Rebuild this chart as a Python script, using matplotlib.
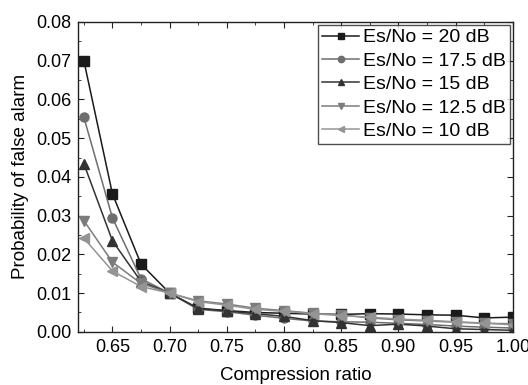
import numpy as np
import matplotlib.pyplot as plt
from matplotlib.ticker import MultipleLocator

plt.rcParams['font.family'] = ['Liberation Sans', 'DejaVu Sans']

# compression ratio
ratio = [0.625, 0.65, 0.675, 0.70, 0.725, 0.75, 0.775, 0.80,
         0.825, 0.85, 0.875, 0.90, 0.925, 0.95, 0.975, 1.00]

# probability of false alarm for each Es/No
pfa_20 = [0.0700, 0.0356, 0.0175, 0.0100, 0.0061, 0.0055, 0.0050, 0.0048,
          0.0046, 0.0045, 0.0047, 0.0046, 0.0044, 0.0043, 0.0036, 0.0038]
pfa_17_5 = [0.0554, 0.0294, 0.0137, 0.0100, 0.0058, 0.0052, 0.0043, 0.0035,
            0.0028, 0.0026, 0.0025, 0.0022, 0.0019, 0.0015, 0.0012, 0.0010]
pfa_15 = [0.0434, 0.0235, 0.0130, 0.0100, 0.0060, 0.0054, 0.0047, 0.0040,
          0.0029, 0.0024, 0.0016, 0.0020, 0.0015, 0.0008, 0.0006, 0.0004]
pfa_12_5 = [0.0287, 0.0180, 0.0125, 0.0100, 0.0080, 0.0072, 0.0061, 0.0055,
            0.0048, 0.0044, 0.0036, 0.0031, 0.0028, 0.0025, 0.0022, 0.0021]
pfa_10 = [0.0242, 0.0157, 0.0117, 0.0100, 0.0078, 0.0069, 0.0058, 0.0053,
          0.0047, 0.0042, 0.0038, 0.0033, 0.0030, 0.0026, 0.0023, 0.0018]

labels = ['Es/No = 20 dB', 'Es/No = 17.5 dB', 'Es/No = 15 dB',
          'Es/No = 12.5 dB', 'Es/No = 10 dB']

series = [pfa_20, pfa_17_5, pfa_15, pfa_12_5, pfa_10]
markers = ['s', 'o', '^', 'v', '<']
colors = ['#1a1a1a', '#6e6e6e', '#333333', '#7c7c7c', '#949494']

fig = plt.figure(figsize=(5.28, 3.85), dpi=100)
ax = fig.add_axes([0.148, 0.138, 0.823, 0.805])

for y, m, c, lab in zip(series, markers, colors, labels):
    ax.plot(ratio, y, marker=m, color=c, markersize=6.5, linewidth=1.1,
            label=lab)

ax.set_xlim(0.62, 1.0)
ax.set_ylim(0.0, 0.08)
ax.xaxis.set_major_locator(MultipleLocator(0.05))
ax.xaxis.set_minor_locator(MultipleLocator(0.025))
ax.yaxis.set_major_locator(MultipleLocator(0.01))
ax.yaxis.set_minor_locator(MultipleLocator(0.005))
ax.xaxis.set_major_formatter(plt.FormatStrFormatter('%.2f'))
ax.yaxis.set_major_formatter(plt.FormatStrFormatter('%.2f'))

ax.tick_params(which='both', direction='in', top=True, right=True,
               labelsize=13, color='#222222')
ax.tick_params(which='major', length=4)
ax.tick_params(which='minor', length=2.5)
ax.tick_params(axis='x', pad=5)
ax.tick_params(axis='y', pad=5)
for s in ax.spines.values():
    s.set_linewidth(1.0)
    s.set_color('#222222')

ax.set_xlabel('Compression ratio', fontsize=13.5, labelpad=8)
ax.set_ylabel('Probability of false alarm', fontsize=13.5, labelpad=5)

leg = ax.legend(loc='upper right', fontsize=14, frameon=True, fancybox=False,
                edgecolor='#222222', handlelength=1.9, handletextpad=0.2,
                labelspacing=0.3, borderpad=0.2, borderaxespad=0.15,
                markerscale=0.7)
leg.get_frame().set_linewidth(1.0)

fig.savefig('out.png', dpi=100)
